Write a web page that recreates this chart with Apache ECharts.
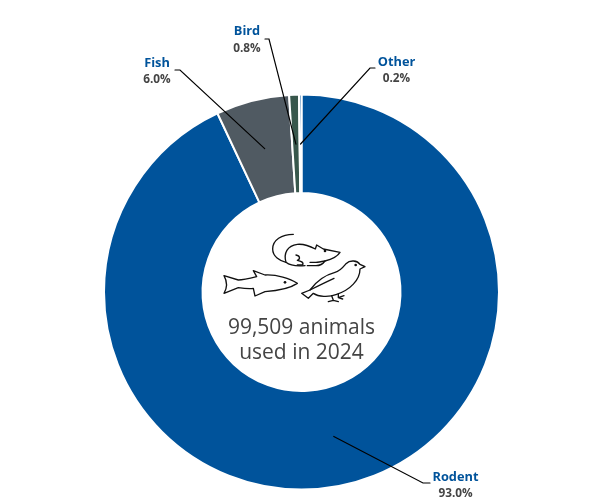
<!DOCTYPE html>
<html>
<head>
<meta charset="utf-8">
<style>html,body{margin:0;padding:0;background:#fff}#c{width:603px;height:503px}</style>
<script src="https://cdn.jsdelivr.net/npm/echarts@6/dist/echarts.min.js"></script>
</head>
<body>
<div id="c"></div>
<script>
const categories = ['Rodent', 'Fish', 'Bird', 'Other'];
const values = [93.0, 6.0, 0.8, 0.2];
const sliceColors = ['#00539b', '#505a62', '#38574c', '#00539b'];
const centerLines = ['99,509 animals', 'used in 2024'];

const labelCentres = { Rodent: [455.5, 485.5], Fish: [157, 71.5], Bird: [247, 40], Other: [396.5, 70.5] };
const labelElbows = { Rodent: [[423, 483], [430, 483]], Fish: [[180, 70], [175, 70]], Bird: [[269, 39], [265, 39]], Other: [[370, 68], [375, 68]] };

const FONT = '"Open Sans","Noto Sans",sans-serif';
const chart = echarts.init(document.getElementById('c'), null, { renderer: 'canvas' });

const pieData = categories.map((n, i) => ({ name: n, value: values[i], itemStyle: { color: sliceColors[i] } }));

const iconPaths = [
  // rat: tail, body, ear, foot
  'M250 28 C215 28 188 45 188 72 C188 95 210 108 228 112 C240 122 262 124 285 122',
  'M228 112 C220 85 232 62 262 58 C285 56 305 66 316 72 L320 60 L340 72 L390 82 C382 95 360 104 345 108 C338 118 332 122 318 122 L292 122',
  'M258 90 C270 92 272 102 262 106 C272 108 282 112 278 120 L262 120',
  'M345 108 C335 110 325 112 318 112 L300 112',
  // fish: outline
  'M42 152 L85 165 C100 165 120 160 140 155 L130 137 L165 150 C200 148 240 160 262 175 C240 190 205 197 165 200 L135 213 L130 190 C115 192 100 190 85 188 L42 205 C52 188 52 170 42 152 Z',
  // bird: outline, wing, legs
  'M465 125 L450 118 C442 106 420 104 408 116 C398 128 392 138 375 142 C345 150 318 170 300 195 L275 205 L295 220 L310 205 C325 215 355 218 380 208 C420 195 450 165 450 132 Z',
  'M300 195 C320 185 350 170 372 160',
  'M365 212 L370 226 L355 230 M370 226 L385 230 M385 207 L385 218 L402 212 M385 218 L398 222'
];
iconPaths.forEach((d, i) => echarts.graphic.registerShape('icon' + i, echarts.graphic.extendPath(d)));

function stroke(d, i) {
  return { type: 'icon' + i, silent: true, style: { fill: 'none', stroke: '#111', lineWidth: 4, lineJoin: 'round', lineCap: 'round' } };
}
function dot(cx, cy) {
  return { type: 'circle', silent: true, shape: { cx: cx, cy: cy, r: 4 }, style: { fill: '#111' } };
}

chart.setOption({
  animation: false,
  backgroundColor: '#fff',
  series: [
    {
      type: 'pie', silent: true, z: 2, center: [301.5, 292], radius: [99, 197.5], startAngle: 90,
      clockwise: true, minAngle: 0, avoidLabelOverlap: false,
      itemStyle: { borderColor: '#fff', borderWidth: 2 },
      label: { show: false }, labelLine: { show: false },
      data: pieData
    },
    {
      type: 'pie', silent: true, z: 5, center: [301.5, 292], radius: [0, 148], startAngle: 90,
      clockwise: true, avoidLabelOverlap: false, minShowLabelAngle: 0,
      itemStyle: { color: 'transparent', borderWidth: 0 },
      label: {
        show: true, position: 'outside',
        formatter: p => '{n|' + p.name + '}\n{v|' + p.value.toFixed(1) + '%}',
        rich: {
          n: { fontFamily: FONT, fontSize: 12.8, fontWeight: 700, color: '#00539b', lineHeight: 17, align: 'center' },
          v: { fontFamily: FONT, fontSize: 11.8, fontWeight: 700, color: '#444', lineHeight: 17, align: 'center' }
        }
      },
      labelLine: { show: true, showAbove: true, length: 10, length2: 5, smooth: false, maxSurfaceAngle: 180, lineStyle: { color: '#000', width: 1.2, cap: 'round' } },
      labelLayout: function (p) {
        const name = categories[p.dataIndex];
        const c = labelCentres[name];
        const start = p.labelLinePoints[0];
        return { x: c[0], y: c[1], align: 'center', verticalAlign: 'middle', hideOverlap: false,
          labelLinePoints: [start, labelElbows[name][0], labelElbows[name][1]] };
      },
      data: categories.map((n, i) => ({ name: n, value: values[i] }))
    }
  ],
  graphic: [
    { type: 'group', x: 210, y: 225, scaleX: 1 / 3, scaleY: 1 / 3, silent: true,
      children: iconPaths.map(stroke).concat([dot(345, 78), dot(225, 172), dot(437, 120)]) },
    { type: 'text', silent: true, x: 301.5, y: 328, style: { text: centerLines[0], fontFamily: FONT, fontSize: 21, fill: '#444', align: 'center', verticalAlign: 'middle' } },
    { type: 'text', silent: true, x: 301.5, y: 353.5, style: { text: centerLines[1], fontFamily: FONT, fontSize: 21, fill: '#444', align: 'center', verticalAlign: 'middle' } }
  ]
});
</script>
</body>
</html>
